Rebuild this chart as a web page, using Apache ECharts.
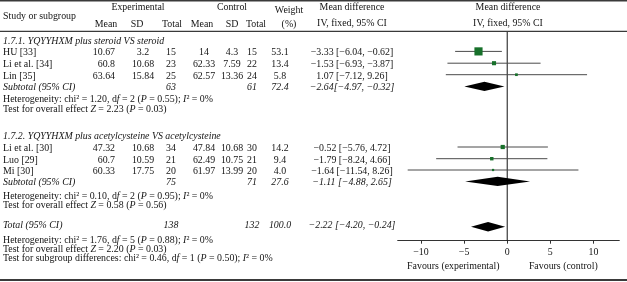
<!DOCTYPE html>
<html lang="en">
<head>
<meta charset="UTF-8">
<title>Forest plot</title>
<script src="https://cdn.jsdelivr.net/npm/echarts@6/dist/echarts.min.js"></script>
<style>
  html, body { margin: 0; padding: 0; background: #fff; }
  #main { width: 627px; height: 282px; }
</style>
</head>
<body>
<div id="main"></div>
<script type="text/javascript">
// study data
var studies  = ['HU [33]', 'Li et al. [34]', 'Lin [35]', 'Li et al. [30]', 'Luo [29]', 'Mi [30]'];
var expMean  = [10.67, 60.8, 63.64, 47.32, 60.7, 60.33];
var expSD    = [3.2, 10.68, 15.84, 10.68, 10.59, 17.75];
var expN     = [15, 23, 25, 34, 21, 20];
var ctlMean  = [14, 62.33, 62.57, 47.84, 62.49, 61.97];
var ctlSD    = [4.3, 7.59, 13.36, 10.68, 10.75, 13.99];
var ctlN     = [15, 22, 24, 30, 21, 20];
var weight   = [53.1, 13.4, 5.8, 14.2, 9.4, 4.0];
var md       = [-3.33, -1.53, 1.07, -0.52, -1.79, -1.64];
var ciLo     = [-6.04, -6.93, -7.12, -5.76, -8.24, -11.54];
var ciHi     = [-0.62, 3.87, 9.26, 4.72, 4.66, 8.26];
var mdText   = ['−3.33 [−6.04, −0.62]', '−1.53 [−6.93, −3.87]', '1.07 [−7.12, 9.26]',
                '−0.52 [−5.76, 4.72]', '−1.79 [−8.24, 4.66]', '−1.64 [−11.54, 8.26]'];

// subgroups
var groupTitles = ['1.7.1. YQYYHXM plus steroid VS steroid',
                   '1.7.2. YQYYHXM plus acetylcysteine VS acetylcysteine'];
var subExpN   = [63, 75];
var subCtlN   = [61, 71];
var subWeight = [72.4, 27.6];
var subMd     = [-2.64, -1.11];
var subLo     = [-4.97, -4.88];
var subHi     = [-0.32, 2.65];
var subText   = ['−2.64[−4.97, −0.32]', '−1.11 [−4.88, 2.65]'];
var subChi    = ['1.20', '0.10'];
var subDf     = [2, 2];
var subP      = ['0.55', '0.95'];
var subI2     = [0, 0];
var subZ      = ['2.23', '0.58'];
var subZP     = ['0.03', '0.56'];

// overall
var totExpN = 138, totCtlN = 132, totWeight = 100.0;
var totMd = -2.22, totLo = -4.20, totHi = -0.24;
var totText = '−2.22 [−4.20, −0.24]';
var totChi = '1.76', totDf = 5, totP = '0.88', totI2 = 0, totZ = '2.20', totZP = '0.03';
var sgChi = '0.46', sgDf = 1, sgP = '0.50', sgI2 = 0;

var xTicks = [-10, -5, 0, 5, 10];

// layout (row text centres, px)
var rowStudy = [52.7, 64.5, 76, 148.3, 160, 171.3];
var rowTitle = [41.7, 136.7];
var rowSub   = [87.7, 182.7];
var rowHet   = [99.5, 196.5];
var rowTest  = [109.5, 205.5];
var rowTotal = 225.7, rowTotHet = 240.5, rowTotTest = 249.5, rowSg = 258.5;
var markShift = -1.3;

var FF = '"Liberation Serif", "Times New Roman", serif';
var FS = 9.9;
var TXT = '#141414';
var col = { study: 3, eMean: 115, eSD: 143, eN: 171, cMean: 204, cSD: 232, cN: 252, w: 280, md: 352 };

function fmt(v) { return v < 0 ? '−' + (-v) : String(v); }

function txt(x, y, s, align, italic) {
    return {
        type: 'text', x: x, y: y, silent: true,
        style: {
            text: s, fill: TXT, fontFamily: FF, fontSize: FS,
            fontStyle: italic ? 'italic' : 'normal',
            align: align || 'left', verticalAlign: 'middle',
            rich: { i: { fontStyle: 'italic', fontFamily: FF, fontSize: FS, fill: TXT } }
        }
    };
}
function hetStr(chi, df, p, i2) {
    return 'Heterogeneity: chi² = ' + chi + ', d{i|f} = ' + df + ' ({i|P} = ' + p + '); {i|I}² = ' + i2 + '%';
}
function testStr(z, p) {
    return 'Test for overall effect {i|Z} = ' + z + ' ({i|P} = ' + p + ')';
}

var g = [];
// rules
g.push({ type: 'rect', shape: { x: 0, y: 0, width: 627, height: 1.6 }, style: { fill: '#3a3a3a' }, silent: true });
g.push({ type: 'rect', shape: { x: 0, y: 30.8, width: 627, height: 1.3 }, style: { fill: '#3a3a3a' }, silent: true });
g.push({ type: 'rect', shape: { x: 0, y: 279, width: 627, height: 2 }, style: { fill: '#3a3a3a' }, silent: true });

// header
g.push(txt(col.study, 16, 'Study or subgroup'));
g.push(txt(138, 7.5, 'Experimental', 'center'));
g.push(txt(232, 7.5, 'Control', 'center'));
g.push(txt(106, 24, 'Mean', 'center'));
g.push(txt(137, 24, 'SD', 'center'));
g.push(txt(172, 24, 'Total', 'center'));
g.push(txt(202, 24, 'Mean', 'center'));
g.push(txt(232, 24, 'SD', 'center'));
g.push(txt(256, 24, 'Total', 'center'));
g.push(txt(289, 10, 'Weight', 'center'));
g.push(txt(289, 24, '(%)', 'center'));
g.push(txt(col.md, 7.5, 'Mean difference', 'center'));
g.push(txt(col.md, 23.5, 'IV, fixed, 95% CI', 'center'));
g.push(txt(508, 7.5, 'Mean difference', 'center'));
g.push(txt(508, 23.5, 'IV, fixed, 95% CI', 'center'));

// study rows
studies.forEach(function (s, k) {
    var y = rowStudy[k];
    g.push(txt(col.study, y, s));
    g.push(txt(col.eMean, y, String(expMean[k]), 'right'));
    g.push(txt(col.eSD, y, String(expSD[k]), 'center'));
    g.push(txt(col.eN, y, String(expN[k]), 'center'));
    g.push(txt(col.cMean, y, String(ctlMean[k]), 'center'));
    g.push(txt(col.cSD, y, String(ctlSD[k]), 'center'));
    g.push(txt(col.cN, y, String(ctlN[k]), 'center'));
    g.push(txt(col.w, y, weight[k].toFixed(1), 'center'));
    g.push(txt(col.md, y, mdText[k], 'center'));
});

// subgroup rows
groupTitles.forEach(function (t, k) {
    g.push(txt(col.study, rowTitle[k], t, 'left', true));
    g.push(txt(col.study, rowSub[k], 'Subtotal (95% CI)', 'left', true));
    g.push(txt(col.eN, rowSub[k], String(subExpN[k]), 'center', true));
    g.push(txt(col.cN, rowSub[k], String(subCtlN[k]), 'center', true));
    g.push(txt(col.w, rowSub[k], subWeight[k].toFixed(1), 'center', true));
    g.push(txt(col.md, rowSub[k], subText[k], 'center', true));
    g.push(txt(col.study, rowHet[k], hetStr(subChi[k], subDf[k], subP[k], subI2[k])));
    g.push(txt(col.study, rowTest[k], testStr(subZ[k], subZP[k])));
});

// total
g.push(txt(col.study, rowTotal, 'Total (95% CI)', 'left', true));
g.push(txt(col.eN, rowTotal, String(totExpN), 'center', true));
g.push(txt(col.cN, rowTotal, String(totCtlN), 'center', true));
g.push(txt(col.w, rowTotal, totWeight.toFixed(1), 'center', true));
g.push(txt(col.md, rowTotal, totText, 'center', true));
g.push(txt(col.study, rowTotHet, hetStr(totChi, totDf, totP, totI2)));
g.push(txt(col.study, rowTotTest, testStr(totZ, totZP)));
g.push(txt(col.study, rowSg, 'Test for subgroup differences: chi² = ' + sgChi + ', d{i|f} = ' + sgDf +
    ' ({i|P} = ' + sgP + '); {i|I}² = ' + sgI2 + '%'));

// favours
g.push(txt(453.3, 266.7, 'Favours (experimental)', 'center'));
g.push(txt(563.3, 266.7, 'Favours (control)', 'center'));

// series data
var studyData = studies.map(function (s, k) {
    return [md[k], ciLo[k], ciHi[k], rowStudy[k] + markShift, weight[k]];
});
var diamondData = subMd.map(function (m, k) {
    return [m, subLo[k], subHi[k], rowSub[k] + markShift];
});
diamondData.push([totMd, totLo, totHi, rowTotal + 1]);

var myChart = echarts.init(document.getElementById('main'), null, { renderer: 'canvas' });

var option = {
    backgroundColor: '#fff',
    animation: false,
    grid: { left: 397.7, right: 7.7, top: 0, bottom: 41.3 },
    xAxis: {
        type: 'value', min: -12.7, max: 13,
        splitLine: { show: false },
        axisLine: { show: true, onZero: false, lineStyle: { color: '#333', width: 1 } },
        axisTick: { show: true, length: 3, customValues: xTicks, lineStyle: { color: '#333' } },
        axisLabel: {
            customValues: xTicks, margin: 7, color: TXT, fontFamily: FF, fontSize: FS,
            formatter: function (v) { return fmt(v); }
        }
    },
    yAxis: { type: 'value', min: 0, max: 240.7, inverse: true, show: false },
    graphic: g,
    series: [
        {
            type: 'line', silent: true, symbol: 'none',
            data: [[0, 32], [0, 240.7]],
            lineStyle: { color: '#111', width: 1 }, z: 3
        },
        {
            type: 'custom', silent: true, z: 4,
            data: studyData,
            renderItem: function (params, api) {
                var y = api.value(3);
                var a = api.coord([api.value(1), y]);
                var b = api.coord([api.value(2), y]);
                var c = api.coord([api.value(0), y]);
                var size = Math.max(2.2, Math.sqrt(api.value(4)) * 1.12);
                return {
                    type: 'group',
                    children: [
                        { type: 'line', shape: { x1: a[0], y1: a[1], x2: b[0], y2: b[1] },
                          style: { stroke: '#4a4a4a', lineWidth: 1 } },
                        { type: 'rect', shape: { x: c[0] - size / 2, y: c[1] - size / 2, width: size, height: size },
                          style: { fill: '#17702a' } }
                    ]
                };
            }
        },
        {
            type: 'custom', silent: true, z: 4,
            data: diamondData,
            renderItem: function (params, api) {
                var y = api.value(3);
                var l = api.coord([api.value(1), y]);
                var r = api.coord([api.value(2), y]);
                var c = api.coord([api.value(0), y]);
                var h = 4.7;
                return {
                    type: 'polygon',
                    shape: { points: [[l[0], l[1]], [c[0], c[1] - h], [r[0], r[1]], [c[0], c[1] + h]] },
                    style: { fill: '#000' }
                };
            }
        }
    ]
};

myChart.setOption(option);
</script>
</body>
</html>
